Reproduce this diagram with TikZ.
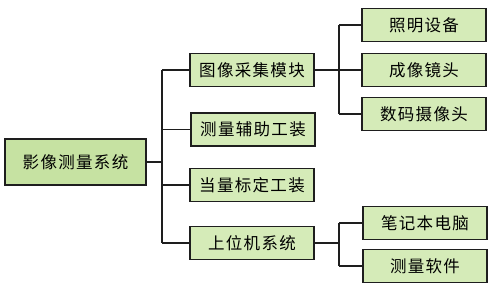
\documentclass[tikz,border=0pt]{standalone}
\usepackage{fontspec}
\setmainfont{Noto Sans CJK SC}[LetterSpace=8]
\definecolor{rootfill}{HTML}{C6E2A2}
\definecolor{boxfill}{HTML}{D5EBB8}
\definecolor{edge}{HTML}{1E1E1E}
\begin{document}
\begin{tikzpicture}[x=1pt,y=-1pt,
  box/.style={draw=edge,line width=1.5pt,fill=boxfill,inner sep=0pt,
    minimum width=124pt,minimum height=33pt,font=\fontsize{16.5}{17}\selectfont},
  rootbox/.style={box,fill=rootfill,minimum width=141pt,minimum height=46pt},
  conn/.style={draw=edge,line width=1.5pt}]
\useasboundingbox (0,0) rectangle (490,288);
\node[rootbox] (root) at (75.5,162) {影像测量系统};
\node[box] (a) at (252,70) {图像采集模块};
\node[box] (b) at (253,129.5) {测量辅助工装};
\node[box] (c) at (252,185) {当量标定工装};
\node[box] (d) at (252,243) {上位机系统};
\node[box] (a1) at (424,25) {照明设备};
\node[box] (a2) at (424,70) {成像镜头};
\node[box] (a3) at (424,114) {数码摄像头};
\node[box] (d1) at (425,223) {笔记本电脑};
\node[box] (d2) at (425,266) {测量软件};
\coordinate (t) at (162,0);
\coordinate (u) at (339,0);
\draw[conn] (root.east) -- (root.east -| t);
\draw[conn] (a.west -| t) -- (d.west -| t);
\foreach \n in {a,b,c,d} \draw[conn] (\n.west -| t) -- (\n.west);
\draw[conn] (a.east) -- (a.east -| u);
\draw[conn] (a1.west -| u) -- (a3.west -| u);
\foreach \n in {a1,a2,a3} \draw[conn] (\n.west -| u) -- (\n.west);
\draw[conn] (d.east) -- (d.east -| u);
\draw[conn] (d1.west -| u) -- (d2.west -| u);
\foreach \n in {d1,d2} \draw[conn] (\n.west -| u) -- (\n.west);
\end{tikzpicture}
\end{document}
